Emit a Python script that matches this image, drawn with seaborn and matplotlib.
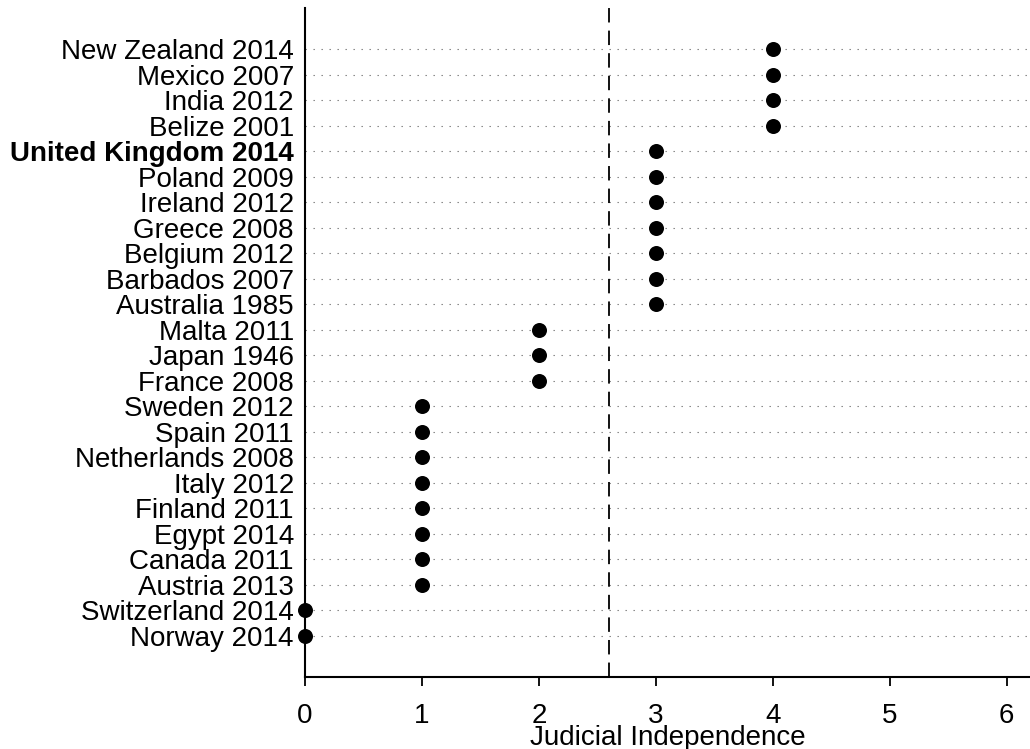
import matplotlib
matplotlib.use("Agg")
import matplotlib.pyplot as plt
import seaborn as sns
import pandas as pd

countries = ["New Zealand 2014", "Mexico 2007", "India 2012", "Belize 2001",
             "United Kingdom 2014", "Poland 2009", "Ireland 2012", "Greece 2008",
             "Belgium 2012", "Barbados 2007", "Australia 1985", "Malta 2011",
             "Japan 1946", "France 2008", "Sweden 2012", "Spain 2011",
             "Netherlands 2008", "Italy 2012", "Finland 2011", "Egypt 2014",
             "Canada 2011", "Austria 2013", "Switzerland 2014", "Norway 2014"]
values = [4, 4, 4, 4, 3, 3, 3, 3, 3, 3, 3, 2, 2, 2, 1, 1, 1, 1, 1, 1, 1, 1, 0, 0]
reference_value = 2.6
highlight = "United Kingdom 2014"
xticks = [0, 1, 2, 3, 4, 5, 6]

sns.set_theme(style="white")
plt.rcParams['font.family'] = ['Liberation Sans', 'DejaVu Sans']

df = pd.DataFrame({"country": countries, "value": values})

fig = plt.figure(figsize=(10.3, 7.49), dpi=100)
ax = fig.add_axes([305/1030, 72/749, 1 - 305/1030, (677 - 8)/749])

sns.stripplot(data=df, x="value", y="country", order=countries, jitter=False,
              color="black", size=10.8, linewidth=0, ax=ax, zorder=3, clip_on=False)

ax.set_xlim(0, 6.2)
n = len(countries)
ax.set_ylim(n - 1 + 1.62, -1.62)

ax.grid(axis="y", linestyle=(0, (1.2, 6)), color="#777777", linewidth=0.8)
ax.grid(axis="x", visible=False)
ax.set_axisbelow(True)
ax.axvline(reference_value, color="black", linestyle=(0, (8, 4.5)), linewidth=1.3, zorder=2)

for s in ["top", "right"]:
    ax.spines[s].set_visible(False)
for s in ["left", "bottom"]:
    ax.spines[s].set_color("black")
    ax.spines[s].set_linewidth(1.5)

ax.set_xticks(xticks)
ax.tick_params(axis="x", direction="out", length=6.5, width=1.3, color="black",
               labelsize=20, pad=12.5, bottom=True)
ax.tick_params(axis="y", length=0, labelsize=20, pad=8, left=False)
for lab in ax.get_yticklabels():
    lab.set_color("black")
    if lab.get_text() == highlight:
        lab.set_fontweight("bold")
for lab in ax.get_xticklabels():
    lab.set_color("black")

ax.set_ylabel("")
ax.set_xlabel("Judicial Independence", fontsize=20, color="black", labelpad=-3)

fig.savefig("out.png", dpi=100)
